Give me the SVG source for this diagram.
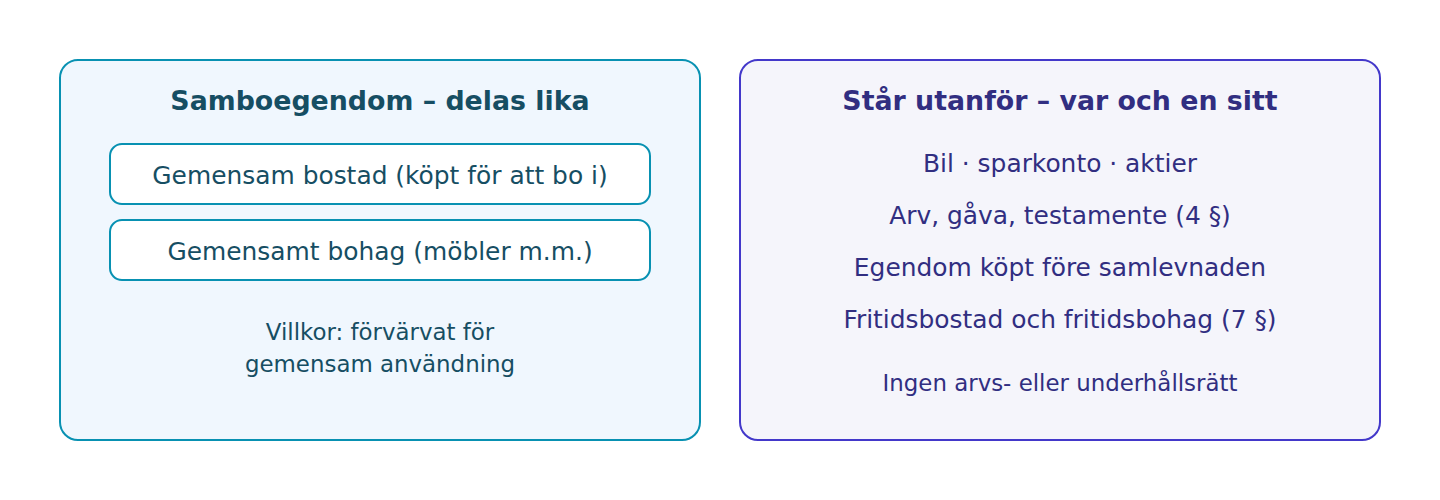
<svg xmlns="http://www.w3.org/2000/svg" width="1440" height="500" viewBox="0 0 1440 500">
<style>
text{font-family:"DejaVu Sans",sans-serif;text-anchor:middle}
.t{font-size:26.8px;font-weight:bold}
.m{font-size:24.9px}
.s{font-size:22.9px}
.l{fill:#164e63}
.r{fill:#312e81}
</style>
<rect width="1440" height="500" fill="#ffffff"/>
<g id="samboegendom">
<rect x="60" y="60" width="640" height="380" rx="18" fill="#f0f7fe" stroke="#0891b2" stroke-width="2"/>
<text class="t l" x="380" y="110">Samboegendom – delas lika</text>
<g id="bostad">
<rect x="110" y="144" width="540" height="60" rx="12" fill="#ffffff" stroke="#0891b2" stroke-width="2"/>
<text class="m l" x="380" y="184">Gemensam bostad (köpt för att bo i)</text>
</g>
<g id="bohag">
<rect x="110" y="220" width="540" height="60" rx="12" fill="#ffffff" stroke="#0891b2" stroke-width="2"/>
<text class="m l" x="380" y="260">Gemensamt bohag (möbler m.m.)</text>
</g>
<text class="s l" x="380" y="340">Villkor: förvärvat för</text>
<text class="s l" x="380" y="372">gemensam användning</text>
</g>
<g id="utanfor">
<rect x="740" y="60" width="640" height="380" rx="18" fill="#f5f5fb" stroke="#4338ca" stroke-width="2"/>
<text class="t r" x="1060" y="110">Står utanför – var och en sitt</text>
<text class="m r" x="1060" y="172">Bil · sparkonto · aktier</text>
<text class="m r" x="1060" y="224">Arv, gåva, testamente (4 §)</text>
<text class="m r" x="1060" y="276">Egendom köpt före samlevnaden</text>
<text class="m r" x="1060" y="328">Fritidsbostad och fritidsbohag (7 §)</text>
<text class="s r" x="1060" y="391">Ingen arvs- eller underhållsrätt</text>
</g>
<g id="connectors"></g>
</svg>
